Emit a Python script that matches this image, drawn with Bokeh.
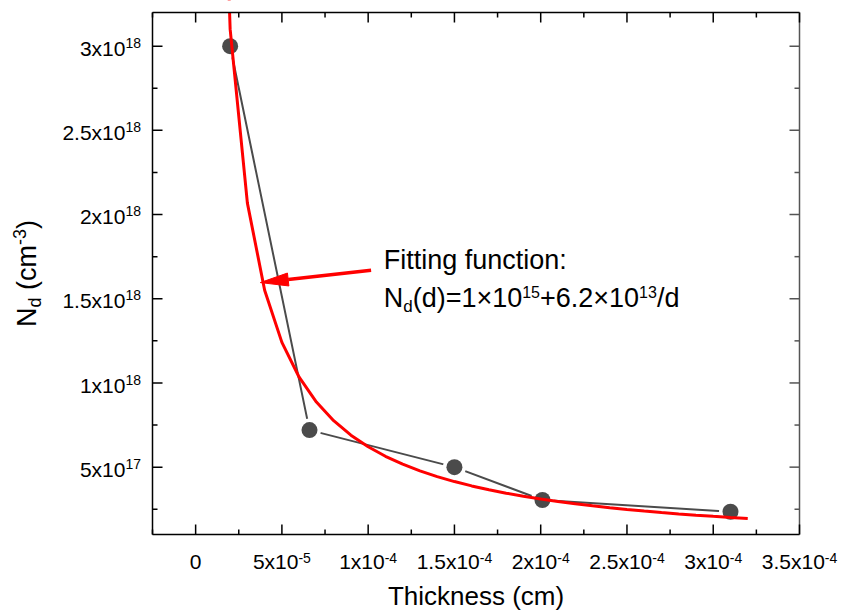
import math
from bokeh.plotting import figure
from bokeh.models import Label, Range1d
from bokeh.embed import file_html
from bokeh.resources import INLINE

# ---------------- data ----------------
thickness_cm = [2.0e-5, 6.6e-5, 1.5e-4, 2.01e-4, 3.1e-4]
nd_cm3 = [3.0e18, 7.2e17, 5.0e17, 3.05e17, 2.35e17]

# fitted curve samples, Nd(d)=1e15+6.2e13/d (tabulated)
fit_d = [1e-5, 2e-5, 3e-5, 4e-5, 5e-5, 6e-5, 7e-5, 8e-5, 9e-5, 1.0e-4,
         1.1e-4, 1.2e-4, 1.3e-4, 1.4e-4, 1.5e-4, 1.6e-4, 1.7e-4, 1.8e-4, 1.9e-4, 2.0e-4,
         2.1e-4, 2.2e-4, 2.3e-4, 2.4e-4, 2.5e-4, 2.6e-4, 2.7e-4, 2.8e-4, 2.9e-4, 3.0e-4,
         3.1e-4, 3.2e-4]
fit_nd = [6.201e18, 3.101e18, 2.068e18, 1.551e18, 1.241e18, 1.034e18, 8.867e17, 7.76e17, 6.899e17, 6.21e17,
          5.646e17, 5.177e17, 4.779e17, 4.439e17, 4.143e17, 3.885e17, 3.657e17, 3.454e17, 3.273e17, 3.11e17,
          2.962e17, 2.828e17, 2.706e17, 2.593e17, 2.49e17, 2.395e17, 2.306e17, 2.224e17, 2.148e17, 2.077e17,
          2.01e17, 1.948e17]

x_ticks = [0.0, 5e-5, 1e-4, 1.5e-4, 2e-4, 2.5e-4, 3e-4, 3.5e-4]
x_tick_base = ["0", "5x10", "1x10", "1.5x10", "2x10", "2.5x10", "3x10", "3.5x10"]
x_tick_sup = ["", "-5", "-4", "-4", "-4", "-4", "-4", "-4"]
x_minor = [-2.5e-5, 2.5e-5, 7.5e-5, 1.25e-4, 1.75e-4, 2.25e-4, 2.75e-4, 3.25e-4]

y_ticks = [5e17, 1e18, 1.5e18, 2e18, 2.5e18, 3e18]
y_tick_base = ["5x10", "1x10", "1.5x10", "2x10", "2.5x10", "3x10"]
y_tick_sup = ["17", "18", "18", "18", "18", "18"]
y_minor = [2.5e17, 7.5e17, 1.25e18, 1.75e18, 2.25e18, 2.75e18]

X0, X1 = -2.5e-5, 3.5e-4
Y0, Y1 = 1.0e17, 3.2e18

# ---------------- layout (pixels) ----------------
FONT = "Liberation Sans"
CW, CH = 842, 614
PL, PR, PT, PB = 152, 799, 12, 534
SX = (PR - PL) / (X1 - X0)
SY = (PB - PT) / (Y1 - Y0)

p = figure(width=CW, height=CH, output_backend="svg", toolbar_location=None,
           x_range=Range1d(X0 - PL / SX, X1 + (CW - PR) / SX),
           y_range=Range1d(Y0 - (CH - PB) / SY, Y1 + PT / SY),
           x_axis_location=None, y_axis_location=None,
           min_border_left=0, min_border_right=0, min_border_top=0, min_border_bottom=0)
p.outline_line_color = None
p.grid.visible = False
p.background_fill_color = "white"
p.border_fill_color = "white"

# ---------------- glyphs ----------------
GRAY = "#4b4b4b"
p.line(thickness_cm, nd_cm3, line_color=GRAY, line_width=2)
p.scatter(thickness_cm, nd_cm3, size=23, fill_color="white", line_color=None)
p.scatter(thickness_cm, nd_cm3, size=16, fill_color=GRAY, line_color=None)
p.line(fit_d, fit_nd, line_color="#ff0000", line_width=3)

# mask anything above the plot box (the fitted curve leaves through the top)
p.quad(left=[p.x_range.start], right=[p.x_range.end], bottom=[Y1], top=[p.y_range.end],
       fill_color="white", line_color=None)

# ---------------- box and ticks ----------------
LW = 1.5
p.segment(x0=[X0, X0, X0], y0=[Y0, Y0, Y1], x1=[X0, X1, X1], y1=[Y1, Y0, Y1],
          line_color="black", line_width=LW)
p.segment(x0=[X1], y0=[Y0], x1=[X1], y1=[Y1], line_color="#555555", line_width=LW)

def ticks_x(vals, length):
    n = len(vals)
    p.segment(x0=vals, y0=[Y0] * n, x1=vals, y1=[Y0 + length / SY] * n, line_color="black", line_width=LW)
    p.segment(x0=vals, y0=[Y1] * n, x1=vals, y1=[Y1 - length / SY] * n, line_color="black", line_width=LW)

def ticks_y(vals, length):
    n = len(vals)
    p.segment(x0=[X0] * n, y0=vals, x1=[X0 + length / SX] * n, y1=vals, line_color="black", line_width=LW)
    p.segment(x0=[X1] * n, y0=vals, x1=[X1 - length / SX] * n, y1=vals, line_color="#555555", line_width=LW)

ticks_x(x_ticks, 10)
ticks_x(x_minor, 5)
ticks_y(y_ticks, 10)
ticks_y(y_minor, 5)

# ---------------- rich text helper ----------------
WID = {str(d): 556 for d in range(10)}
WID.update({'x': 500, '.': 278, '-': 333, '+': 584, '=': 584, '\u00d7': 584, '(': 333, ')': 333,
            '/': 278, 'd': 556, 'N': 722, ' ': 278, 'c': 500, 'm': 833, 'F': 611, 'i': 222,
            't': 278, 'n': 556, 'g': 556, 'f': 278, 'u': 556, 'o': 556, ':': 278, 'T': 611,
            'h': 556, 'k': 500, 'e': 556, 's': 500})
K = 0.35  # baseline correction observed for Label rendering

def tw(s, size):
    return sum(WID.get(c, 556) for c in s) / 1000.0 * size

def rich(x, y, segs, dx=0.0, dy=0.0, align="left", angle=0.0, color="black"):
    total = sum(tw(t, sz) for t, sz, sh in segs)
    pos = {"left": 0.0, "center": -total / 2.0, "right": -total}[align]
    for t, sz, sh in segs:
        lead = len(t) - len(t.lstrip(" "))
        pos += tw(t[:lead], sz)
        t = t[lead:]
        if t:
            if angle == 0:
                xo, yo = dx + pos, dy + sh + K * sz
            else:
                xo, yo = dx - sh - K * sz, dy + pos
            p.add_layout(Label(x=x, y=y, x_offset=xo, y_offset=yo, text=t, angle=angle,
                               text_font=FONT, text_font_size=f"{sz}px", text_align="left",
                               text_baseline="alphabetic", text_color=color))
        pos += tw(t, sz)

TB, TS = 21, 14
for v, b, s in zip(y_ticks, y_tick_base, y_tick_sup):
    rich(X0, v, [(b, TB, 0), (s, TS, 8)], dx=-11.5, dy=-9.5, align="right")
for v, b, s in zip(x_ticks, x_tick_base, x_tick_sup):
    rich(v, Y0, [(b, TB, 0), (s, TS, 6)], dy=-34.5, align="center")

# axis titles
rich((X0 + X1) / 2, Y0, [("Thickness (cm)", 26, 0)], dy=-71, align="center")
rich(X0, (Y0 + Y1) / 2, [("N", 27, 0), ("d", 18, -5), (" (cm", 27, 0), ("-3", 18, 10), (")", 27, 0)],
     dx=-116.5, align="center", angle=math.pi / 2)

# annotation text
ANN_X, ANN_Y = 1.09e-4, 1.673e18
rich(ANN_X, ANN_Y, [("Fitting function:", 27, 0)])
rich(ANN_X, ANN_Y, [("N", 27, 0), ("d", 17, -5), ("(d)=1\u00d710", 27, 0), ("15", 16, 10),
                    ("+6.2\u00d710", 27, 0), ("13", 16, 10), ("/d", 27, 0)], dy=-37.5)

# arrow
tail = (1.017e-4, 1.669e18)
tip = (3.75e-5, 1.596e18)
vx = (tip[0] - tail[0]) * SX
vy = (tip[1] - tail[1]) * SY
L = math.hypot(vx, vy)
ux, uy = vx / L, vy / L
HL, HW = 28.0, 6.5
bx = tip[0] - HL * ux / SX
by = tip[1] - HL * uy / SY
nx, ny = -uy, ux
p.line([tail[0], bx], [tail[1], by], line_color="#ff0000", line_width=3.5)
p.patch([tip[0], bx + HW * nx / SX, bx - HW * nx / SX],
        [tip[1], by + HW * ny / SY, by - HW * ny / SY],
        fill_color="#ff0000", line_color="#ff0000", line_width=1)

open("out.html", "w").write(file_html(p, INLINE))
